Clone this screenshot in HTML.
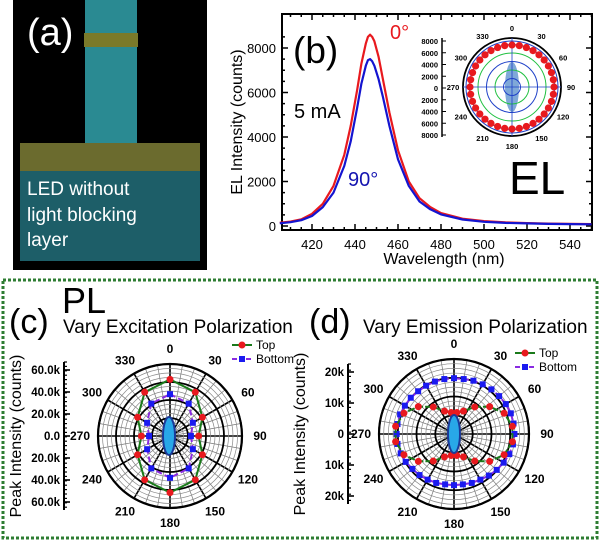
<!DOCTYPE html>
<html><head><meta charset="utf-8"><style>
body{margin:0;background:#fff}
svg{display:block;font-family:"Liberation Sans",sans-serif}
</style></head><body>
<svg id="s" width="600" height="541" viewBox="0 0 600 541" xmlns="http://www.w3.org/2000/svg">
<g>
<rect x="13" y="0" width="194" height="270" fill="#000"/>
<rect x="85" y="0" width="52" height="145" fill="#2a8a92"/>
<rect x="84" y="33" width="54" height="14" fill="#7a7a2a"/>
<rect x="20" y="143" width="180" height="29" fill="#6b6b2e"/>
<rect x="20" y="171" width="180" height="90" fill="#1d5e68"/>
<text x="27" y="45" font-size="38" fill="#fff">(a)</text>
<text x="27" y="195" font-size="19" fill="#fff">LED without</text>
<text x="27" y="221" font-size="19" fill="#fff">light blocking</text>
<text x="27" y="246" font-size="19" fill="#fff">layer</text>
</g>
<g id="pb"></g>
<rect x="3" y="280" width="594" height="258" fill="none" stroke="#2e7d32" stroke-width="3" stroke-dasharray="3,2"/>
<g id="pc"></g>
<g id="pd"></g>
</svg>
<script>
// ---- EL spectrum data ----
const wl=[405,410,415,420,425,430,435,438,441,443,445,446,447,448,449,451,453,456,460,465,470,475,480,490,500,510,520,530,540,550];
const elRed=[150,200,300,550,1000,1800,3200,4500,6100,7300,8200,8500,8600,8500,8300,7600,6600,5100,3400,2000,1250,850,580,330,220,160,130,110,95,85];
const elBlue=[120,170,260,450,850,1500,2700,3800,5300,6400,7200,7450,7500,7400,7200,6600,5800,4500,3000,1800,1100,750,520,290,190,140,115,95,85,75];
const xTicks=[420,440,460,480,500,520,540];
const yTicks=[0,2000,4000,6000,8000];
const insetTicks=['8000','6000','4000','2000','0','2000','4000','6000','8000'];
// ---- PL (c) data, k counts every 30 deg ----
const cAngles=[0,30,60,90,120,150,180,210,240,270,300,330];
const cTop=[51.5,46,34,26,34,46,51.5,46,34,26,34,46];
const cBottom=[38,34,24,19,24,34,38,34,24,19,24,34];
const cTickLabels=['60.0k','40.0k','20.0k','0.0','20.0k','40.0k','60.0k'];
// ---- PL (d) data ----
const dTopAngles=[7.5,22.5,37.5,52.5,67.5,82.5,97.5,112.5,127.5,142.5,157.5,172.5,187.5,202.5,217.5,232.5,247.5,262.5,277.5,292.5,307.5,322.5,337.5,352.5];
const dTop=[7,8,11,14.5,17.5,19,19,17.5,14.5,11,8,7,7,8,11,14.5,17.5,19,19,17.5,14.5,11,8,7];
const dBotAngles=[0,10,20,30,40,50,60,70,80,90,100,110,120,130,140,150,160,170,180,190,200,210,220,230,240,250,260,270,280,290,300,310,320,330,340,350];
const dBottom=[18,18,18.3,18.5,18.8,19,19.3,19.5,19.5,19.5,19.3,19,18.5,18,17.5,17,16.8,16.5,16.5,16.5,16.8,17,17.3,17.5,18,18.3,18.5,18.5,18.5,18.5,18.3,18.2,18,18,18,18];
const dTickLabels=['20k','10k','0','10k','20k'];

const NS='http://www.w3.org/2000/svg';
function mk(p,tag,a,txt){const e=document.createElementNS(NS,tag);for(const k in a)e.setAttribute(k,a[k]);if(txt!==undefined)e.textContent=txt;p.appendChild(e);return e;}

// ---- Panel b ----
const pb=document.getElementById('pb');
const X=w=>355+(w-440)*2.15, Y=v=>226-v*178/8000;
mk(pb,'rect',{x:282,y:14,width:310,height:216,fill:'none',stroke:'#000','stroke-width':2});
for(let w=410;w<=550;w+=5){const big=w%20==0;const x=X(w);
 mk(pb,'line',{x1:x,x2:x,y1:230,y2:230-(big?6:3),stroke:'#000','stroke-width':1.5});
 mk(pb,'line',{x1:x,x2:x,y1:14,y2:14+(big?6:3),stroke:'#000','stroke-width':1.5});}
xTicks.forEach(w=>{const t=mk(pb,'text',{x:X(w),y:249,'font-size':13,'text-anchor':'middle'},String(w));
 
 });
for(let v=0;v<=8800;v+=500){const big=v%2000==0;const y=Y(v);
 mk(pb,'line',{x1:282,x2:282+(big?6:3),y1:y,y2:y,stroke:'#000','stroke-width':1.5});
 mk(pb,'line',{x1:592,x2:592-(big?6:3),y1:y,y2:y,stroke:'#000','stroke-width':1.5});}
yTicks.forEach(v=>{const t=mk(pb,'text',{x:276,y:Y(v)+5,'font-size':13,'text-anchor':'end'},String(v));
 
 });
function line(arrY,col,name){const d=wl.map((w,i)=>(i?'L':'M')+X(w).toFixed(1)+','+Y(arrY[i]).toFixed(1)).join('');
 const p=mk(pb,'path',{d:d,fill:'none',stroke:col,'stroke-width':2.2,'stroke-linejoin':'round'});
 
 }
line(elRed,'#e8191e','el-0deg-line');line(elBlue,'#1414d0','el-90deg-line');
let t;
t=mk(pb,'text',{x:293,y:63,'font-size':37},'(b)');


t=mk(pb,'text',{x:390,y:39,'font-size':20,fill:'#e8191e'},'0°');


t=mk(pb,'text',{x:294,y:118,'font-size':20},'5 mA');


t=mk(pb,'text',{x:348,y:186,'font-size':20,fill:'#1414b0'},'90°');


t=mk(pb,'text',{x:509,y:194,'font-size':46},'EL');


t=mk(pb,'text',{x:0,y:0,'font-size':16,'text-anchor':'middle',transform:'translate(242,122) rotate(-90)'},'EL Intensity (counts)');


t=mk(pb,'text',{x:444,y:264,'font-size':16,'text-anchor':'middle'},'Wavelength (nm)');


// inset
const icx=512,icy=87;
mk(pb,'line',{x1:442,x2:442,y1:38,y2:137,stroke:'#000','stroke-width':1.5});
insetTicks.forEach((s,i)=>{const y=41+i*11.75;mk(pb,'line',{x1:442,x2:446,y1:y,y2:y,stroke:'#000'});
 const e=mk(pb,'text',{x:438,y:y+3,'font-size':7.5,'font-weight':'bold','text-anchor':'end'},s);
 
 });
mk(pb,'ellipse',{cx:icx,cy:icy,rx:7,ry:25,fill:'#7fa8d8'});
for(let k=5;k>=1;k--)mk(pb,'circle',{cx:icx,cy:icy,r:k*8.5,fill:'none',stroke:k%2?'#1e40c8':'#20c040','stroke-width':1});
mk(pb,'circle',{cx:icx,cy:icy,r:46,fill:'none',stroke:'#1e40c8','stroke-width':1});
mk(pb,'circle',{cx:icx,cy:icy,r:49,fill:'none',stroke:'#000','stroke-width':1.8});
mk(pb,'line',{x1:icx-49,x2:icx+49,y1:icy,y2:icy,stroke:'#1e40c8','stroke-width':0.8});
mk(pb,'line',{x1:icx,x2:icx,y1:icy-49,y2:icy+49,stroke:'#1e40c8','stroke-width':0.8});
for(let a=0;a<360;a+=10){const r=a*Math.PI/180;const c=mk(pb,'circle',{cx:icx+42*Math.sin(r),cy:icy-42*Math.cos(r),r:3.6,fill:'#e8191e'});
 
 }
for(let a=0;a<360;a+=30){const r=a*Math.PI/180;const e=mk(pb,'text',{x:icx+59*Math.sin(r),y:icy-59*Math.cos(r)+3,'font-size':7.5,'font-weight':'bold','text-anchor':'middle'},String(a));
 
 }

// ---- polar helper ----
function polar(g,cx,cy,R){
 for(let a=0;a<360;a+=10){const r=a*Math.PI/180;mk(g,'line',{x1:cx,y1:cy,x2:cx+R*Math.sin(r),y2:cy-R*Math.cos(r),stroke:a%30?'#777':'#000','stroke-width':a%30?0.7:1.6});}
 for(let k=1;k<=16;k++){const big=k%4==0;mk(g,'circle',{cx:cx,cy:cy,r:R*k/16,fill:'none',stroke:big?'#000':'#888','stroke-width':big?1.8:0.7});}
 mk(g,'circle',{cx:cx,cy:cy,r:R,fill:'none',stroke:'#000','stroke-width':2.2});
 for(let a=0;a<360;a+=30){const r=a*Math.PI/180;const e=mk(g,'text',{x:cx+(R+18)*Math.sin(r),y:cy-(R+15)*Math.cos(r)+4,'font-size':12,'font-weight':'bold','text-anchor':'middle'},String(a));
  
  }
}
function series(g,cx,cy,angs,vals,scale,col,mcol,sq,dash,name){
 const pts=angs.map((a,i)=>{const r=a*Math.PI/180;return [cx+vals[i]*scale*Math.sin(r),cy-vals[i]*scale*Math.cos(r)];});
 const p=mk(g,'path',{d:pts.map((q,i)=>(i?'L':'M')+q[0].toFixed(1)+','+q[1].toFixed(1)).join('')+'Z',fill:'none',stroke:col,'stroke-width':2,'stroke-dasharray':dash});
 
 
 pts.forEach(q=>{let m;if(sq)m=mk(g,'rect',{x:q[0]-3,y:q[1]-3,width:6,height:6,fill:mcol});else m=mk(g,'circle',{cx:q[0],cy:q[1],r:3.5,fill:mcol});
  
  });
}
function legend(g,x,y){
 mk(g,'line',{x1:x,x2:x+20,y1:y,y2:y,stroke:'#1a7a1a','stroke-width':2});mk(g,'circle',{cx:x+10,cy:y,r:3.5,fill:'#e8191e'});
 let e=mk(g,'text',{x:x+24,y:y+4,'font-size':12},'Top');
 
 
 mk(g,'line',{x1:x,x2:x+20,y1:y+14,y2:y+14,stroke:'#8a2be2','stroke-width':2,'stroke-dasharray':'5,2'});mk(g,'rect',{x:x+7,y:y+11,width:6,height:6,fill:'#1a1af0'});
 e=mk(g,'text',{x:x+24,y:y+18,'font-size':12},'Bottom');
 
 
}
function leftAxis(g,x,y0,step,labels,title,tx){
 const n=labels.length;mk(g,'line',{x1:x,x2:x,y1:y0-8,y2:y0+step*(n-1)+8,stroke:'#000','stroke-width':2});
 for(let y=y0-8;y<=y0+step*(n-1)+8;y+=step/5)mk(g,'line',{x1:x,x2:x+3,y1:y,y2:y,stroke:'#000','stroke-width':1.2});
 labels.forEach((s,i)=>{const y=y0+i*step;mk(g,'line',{x1:x,x2:x+6,y1:y,y2:y,stroke:'#000','stroke-width':1.6});
  const e=mk(g,'text',{x:x-4,y:y+4,'font-size':11.5,'font-weight':'bold','text-anchor':'end'},s);
  
  });
 const e=mk(g,'text',{x:0,y:0,'font-size':16,'text-anchor':'middle',transform:'translate('+tx+','+(y0+step*(n-1)/2)+') rotate(-90)'},title);
 
 
}
function core(g,cx,cy){mk(g,'ellipse',{cx:cx,cy:cy,rx:6,ry:19,fill:'#28a8e8',stroke:'#1a3a9a','stroke-width':2});}

// ---- Panel c ----
const pc=document.getElementById('pc');
polar(pc,170,436,72);
series(pc,170,436,cAngles,cTop,1.1,'#1a7a1a','#e8191e',false,'none','top');
series(pc,170,436,cAngles,cBottom,1.1,'#8a2be2','#1a1af0',true,'6,3','bottom');
core(pc,169,436);
legend(pc,232,345);
leftAxis(pc,64,370,22,cTickLabels,'Peak Intensity (counts)',21);
t=mk(pc,'text',{x:62,y:313,'font-size':36},'PL');


t=mk(pc,'text',{x:9,y:333,'font-size':34},'(c)');


t=mk(pc,'text',{x:63,y:333,'font-size':19},'Vary Excitation Polarization');



// ---- Panel d ----
const pd=document.getElementById('pd');
polar(pd,454,434,75);
series(pd,454,434,dBotAngles,dBottom,3.1,'#8a2be2','#1a1af0',true,'6,3','bottom');
series(pd,454,434,dTopAngles,dTop,3.1,'#1a7a1a','#e8191e',false,'7,2','top');
core(pd,454,434);
legend(pd,515,353);
leftAxis(pd,348,372,31,dTickLabels,'Peak Intensity (counts)',305);
t=mk(pd,'text',{x:309,y:333,'font-size':34},'(d)');


t=mk(pd,'text',{x:363,y:333,'font-size':19},'Vary Emission Polarization');


</script>
</body></html>
